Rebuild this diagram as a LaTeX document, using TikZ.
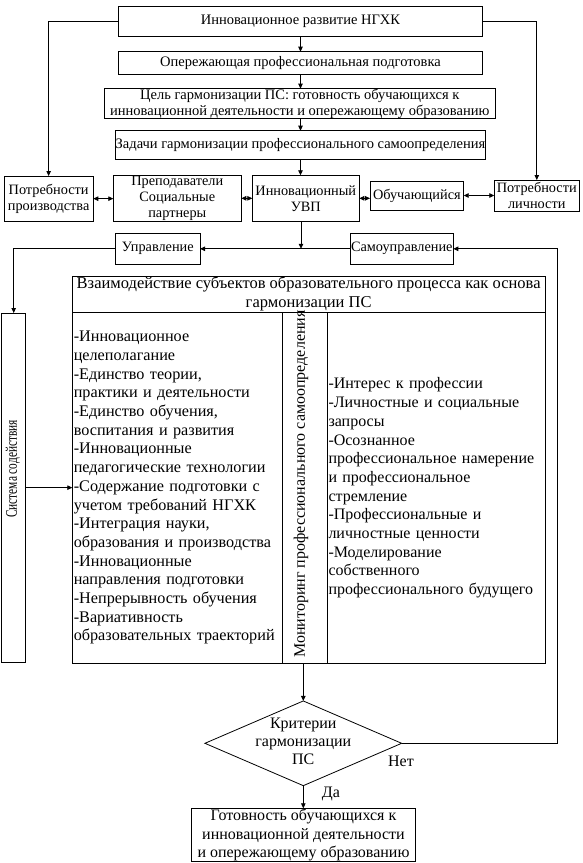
\documentclass[tikz,border=0pt]{standalone}
\usepackage{fontspec}
\usepackage{graphicx}
\setmainfont{Liberation Serif}
\usetikzlibrary{arrows.meta,shapes.geometric}
\newcommand{\fA}{\fontsize{14.5}{16.5}\selectfont}
\newcommand{\fB}{\fontsize{14.3}{16}\selectfont}
\newcommand{\fC}{\fontsize{16.2}{18.7}\selectfont}
\newcommand{\fH}{\fontsize{16.5}{18.7}\selectfont}
\newcommand{\fD}{\fontsize{16}{18.3}\selectfont}
\begin{document}
\begin{tikzpicture}[x=1pt,y=-1pt,
  box/.style={draw, line width=0.8pt, inner sep=0pt, outer sep=0pt, align=center},
  lbl/.style={inner sep=0pt, outer sep=0pt, align=center},
  arr/.style={line width=0.8pt, -{Triangle[length=5pt,width=4.5pt]}},
  darr/.style={line width=0.8pt, {Triangle[length=5pt,width=4.5pt]}-{Triangle[length=5pt,width=4.5pt]}},
  ln/.style={line width=0.8pt}]
\useasboundingbox (0,0) rectangle (583,863);

\node[box, font=\fA, minimum width=364.4pt, minimum height=29.3pt] (b1) at (300.5,21.35) {Инновационное развитие НГХК};
\node[box, font=\fA, minimum width=364.4pt, minimum height=22.3pt] (b2) at (300.5,62.85) {Опережающая профессиональная подготовка};
\node[box, font=\fA, minimum width=391pt, minimum height=28.7pt] (b3) at (299.8,103.65) {Цель гармонизации ПС: готовность обучающихся к\\инновационной деятельности и опережающему образованию};
\node[box, font=\fA, minimum width=364.4pt, minimum height=28.6pt] (b4) at (300.5,145) {Задачи гармонизации профессионального самоопределения};

\node[box, font=\fB, minimum width=89.3pt, minimum height=45.3pt] (pp) at (48.65,198.65) {Потребности\\производства};
\node[box, font=\fB, minimum width=128pt, minimum height=46pt] (prep) at (177.3,198.3) {Преподаватели\\Социальные\\партнеры};
\node[box, font=\fB, minimum width=107pt, minimum height=46pt] (uvp) at (305.8,198.3) {Инновационный\\УВП};
\node[box, font=\fB, minimum width=93.7pt, minimum height=29pt] (obuch) at (416.85,195.5) {Обучающийся};
\node[box, font=\fB, minimum width=85pt, minimum height=31.7pt] (pl) at (536.8,195.85) {Потребности\\личности};

\node[box, font=\fB, minimum width=84.3pt, minimum height=31pt] (upr) at (157.85,248.8) {Управление};
\node[box, font=\fB, minimum width=103pt, minimum height=31pt] (samo) at (401.8,248.8) {Самоуправление};

\node[box, font=\fH, minimum width=472.7pt, minimum height=36pt] (hdr) at (308.65,294) {Взаимодействие субъектов образовательного процесса как основа\\гармонизации ПС};

\node[box, font=\fC, align=left, text width=207.4pt, inner xsep=1.5pt, minimum height=351.5pt] (colL) at (177.5,487.75) {-Инновационное\\целеполагание\\-Единство теории,\\практики и деятельности\\-Единство обучения,\\воспитания и развития\\-Инновационные\\педагогические технологии\\-Содержание подготовки с\\учетом требований НГХК\\-Интеграция науки,\\образования и производства\\-Инновационные\\направления подготовки\\-Непрерывность обучения\\-Вариативность\\образовательных траекторий};
\node[box, minimum width=44.3pt, minimum height=351.5pt] (colM) at (304.85,487.75) {};
\node[lbl, font=\fD, rotate=90] (monT) at (301,484) {Мониторинг профессионального самоопределения};
\node[box, font=\fD, align=left, text width=215pt, inner xsep=1.5pt, minimum height=351.5pt] (colR) at (436,487.75) {\fontsize{16}{18.7}\selectfont -Интерес к профессии\\-Личностные и социальные\\запросы\\-Осознанное\\профессиональное намерение\\и профессиональное\\стремление\\-Профессиональные и\\личностные ценности\\-Моделирование\\собственного\\профессионального будущего};

\node[box, minimum width=24pt, minimum height=349.3pt] (sys) at (13.7,487.65) {};
\node[lbl, font=\fC, rotate=90] (sysT) at (12.8,469) {\scalebox{0.7}[1]{Система содействия}};

\node[draw, line width=0.8pt, diamond, inner sep=0pt, outer sep=0pt, minimum width=196.7pt, minimum height=84.7pt] (dia) at (303.3,743.3) {};
\node[lbl, font=\fD] (diaT) at (303.3,741.5) {Критерии\\гармонизации\\ПС};
\node[lbl, font=\fD] (net) at (401,761.7) {Нет};
\node[lbl, font=\fD] (da) at (331,794) {Да};

\node[box, font=\fD, minimum width=223.6pt, minimum height=53.4pt] (fin) at (303.5,835) {Готовность обучающихся к\\инновационной деятельности\\и опережающему образованию};

% connectors
\draw[arr] (b1.south) -- (b1.south |- b2.north);
\draw[arr] (b2.south) -- (b2.south |- b3.north);
\draw[arr] (b3.south -| b2.south) -- (b2.south |- b4.north);
\draw[arr] (b4.south) -- (b4.south |- uvp.north);
\draw[arr] (b1.west) -| (pp.north);
\draw[arr] (b1.east) -| (pl.north);
\draw[darr] (pp.east) -- (pp.east -| prep.west);
\draw[darr] (prep.east) -- (prep.east -| uvp.west);
\draw[darr] (uvp.east) -- (uvp.east -| obuch.west);
\draw[darr] (obuch.east) -- (obuch.east -| pl.west);

\coordinate (j) at (301,248.8);
\draw[arr] (j |- uvp.south) -- (j);
\draw[arr] (samo.west) -- (upr.east);
\draw[arr] (upr.west) -| (sys.north);
\draw[arr] (sys.east) -- (sys.east -| colL.west);
\draw[arr] (colM.south -| dia.north) -- (dia.north);
\draw[arr] (dia.south) -- (dia.south |- fin.north);
\coordinate (rc) at (557.7,248.8);
\draw[arr] (dia.east) -| (rc) -- (samo.east);
\end{tikzpicture}
\end{document}
